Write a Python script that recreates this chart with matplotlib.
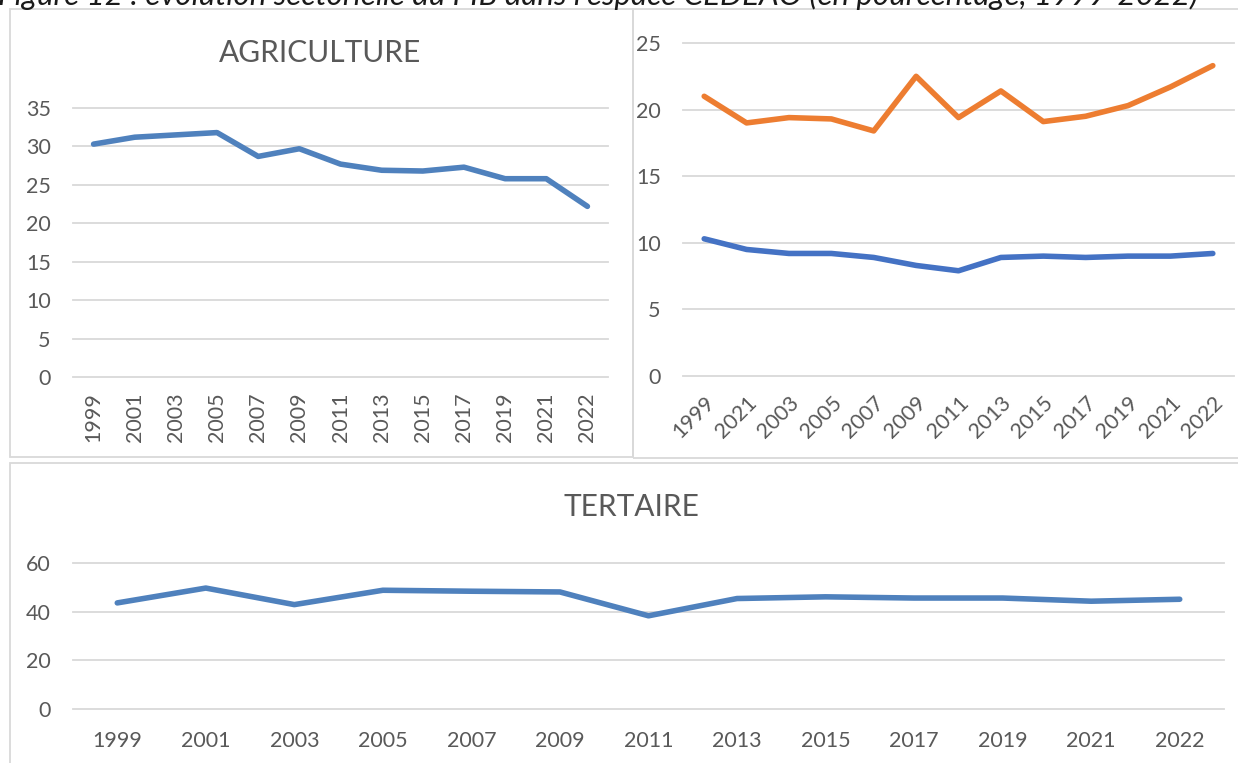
import matplotlib.pyplot as plt
from matplotlib.patches import Rectangle

plt.rcParams['font.family'] = ['Lato', 'DejaVu Sans']

years = ['1999', '2001', '2003', '2005', '2007', '2009', '2011',
         '2013', '2015', '2017', '2019', '2021', '2022']
# second label of the upper right chart reads 2021 in the source
years_right = ['1999', '2021', '2003', '2005', '2007', '2009', '2011',
               '2013', '2015', '2017', '2019', '2021', '2022']

agriculture = [30.3, 31.2, 31.5, 31.8, 28.7, 29.7, 27.7,
               26.9, 26.8, 27.3, 25.8, 25.8, 22.2]
orange_serie = [21.0, 19.0, 19.4, 19.3, 18.4, 22.5, 19.4,
                21.4, 19.1, 19.5, 20.3, 21.7, 23.3]
blue_serie = [10.3, 9.5, 9.2, 9.2, 8.9, 8.3, 7.9,
              8.9, 9.0, 8.9, 9.0, 9.0, 9.2]
tertiaire = [43.6, 49.7, 42.9, 48.8, 48.4, 48.1, 38.3,
             45.4, 46.1, 45.6, 45.6, 44.3, 45.1]

W, H = 1238, 763
GRID = '#D9D9D9'
TXT = '#595959'

fig = plt.figure(figsize=(W / 100, H / 100), dpi=100)


def px_axes(x0, y0, x1, y1):
    return fig.add_axes([x0 / W, 1 - y1 / H, (x1 - x0) / W, (y1 - y0) / H])


def box(x0, y0, x1, y1):
    fig.add_artist(Rectangle((x0 / W, 1 - y1 / H), (x1 - x0) / W, (y1 - y0) / H,
                             transform=fig.transFigure, fill=False,
                             ec=GRID, lw=1.3))


def style(ax, yticks, labels, xpad):
    ax.set_xlim(-0.5, len(labels) - 0.5)
    ax.set_ylim(yticks[0], yticks[-1])
    ax.set_yticks(yticks)
    ax.set_xticks(range(len(labels)))
    ax.set_xticklabels(labels)
    for s in ax.spines.values():
        s.set_visible(False)
    ax.yaxis.grid(True, color=GRID, lw=1.3)
    ax.set_axisbelow(True)
    ax.tick_params(length=0, labelsize=15.5, labelcolor=TXT)
    ax.tick_params(axis='y', pad=16)
    ax.tick_params(axis='x', pad=xpad)
    for gl in ax.get_ygridlines():
        gl.set_clip_on(False)


# panel frames
box(10, 9, 633, 457)
box(633, 9, 1245, 458)
box(10, 463, 1245, 775)

x = range(len(years))
lw = 4.0

# agriculture
ax1 = px_axes(73, 108, 608, 377)
style(ax1, [0, 5, 10, 15, 20, 25, 30, 35], years, 11)
ax1.plot(x, agriculture, color='#4F81BD', lw=lw, solid_capstyle='round',
         solid_joinstyle='round')
for t in ax1.get_xticklabels():
    t.set_rotation(90)
fig.text(320 / W, 1 - 53 / H, 'AGRICULTURE', ha='center', va='center',
         fontsize=21.5, color=TXT)

# upper right
ax2 = px_axes(683, 43, 1234, 376)
style(ax2, [0, 5, 10, 15, 20, 25], years_right, 12)
ax2.plot(x, orange_serie, color='#ED7D31', lw=lw, solid_capstyle='round',
         solid_joinstyle='round')
ax2.plot(x, blue_serie, color='#4472C4', lw=lw, solid_capstyle='round',
         solid_joinstyle='round')
for t in ax2.get_xticklabels():
    t.set_rotation(45)
    t.set_ha('right')
    t.set_rotation_mode('anchor')

# tertiaire
ax3 = px_axes(73, 563, 1224, 709)
style(ax3, [0, 20, 40, 60], years, 16)
ax3.plot(x, tertiaire, color='#4F81BD', lw=lw, solid_capstyle='round',
         solid_joinstyle='round')
fig.text(631 / W, 1 - 507 / H, 'TERTAIRE', ha='center', va='center',
         fontsize=21.5, color=TXT)

# figure caption, cut at the top edge as in the source screenshot
fig.text(-0.002, 1 - 5 / H,
         "Figure 12 : évolution sectorielle du PIB dans l'espace CEDEAO "
         "(en pourcentage, 1999-2022)",
         ha='left', va='baseline', fontsize=22.5, style='italic', color='#1a1a1a')

fig.savefig('out.png', dpi=100)
